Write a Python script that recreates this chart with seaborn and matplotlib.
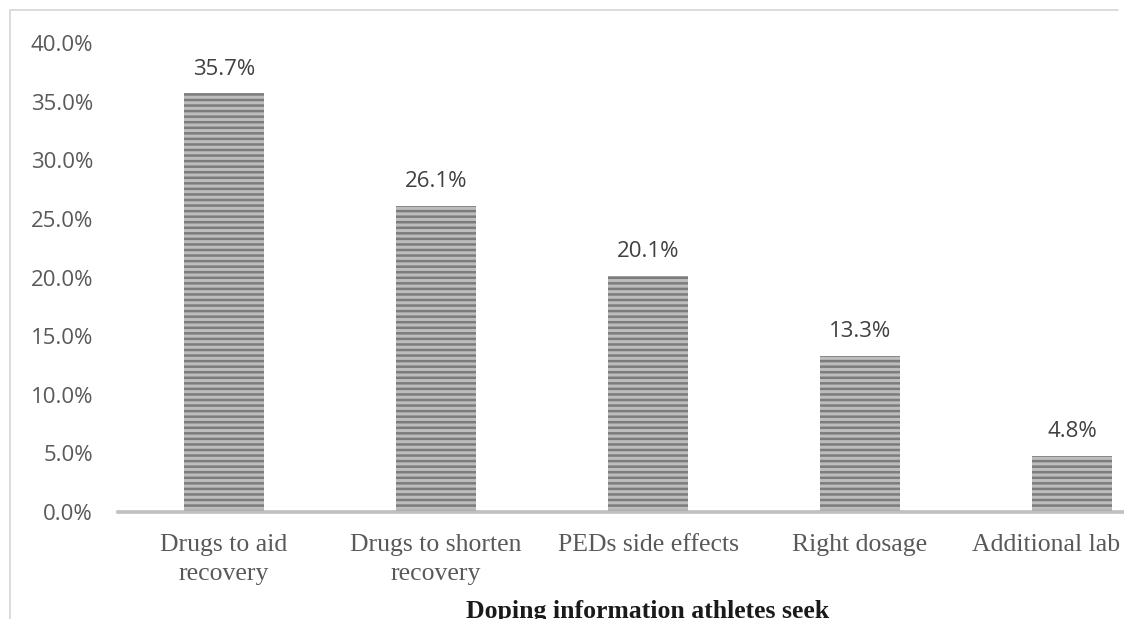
import matplotlib
matplotlib.use("Agg")
import matplotlib.pyplot as plt
from matplotlib.lines import Line2D
from matplotlib.ticker import FuncFormatter, MultipleLocator
import seaborn as sns

# data
categories = ["Drugs to aid\nrecovery", "Drugs to shorten\nrecovery",
              "PEDs side effects", "Right dosage", "Additional lab tests"]
shares = [0.357, 0.261, 0.201, 0.133, 0.048]
title = "Doping information athletes seek"

sns.set_style("white")
plt.rcParams["hatch.color"] = "#bdbdbd"
plt.rcParams["hatch.linewidth"] = 2.2

W, H = 1124, 619
fig = plt.figure(figsize=(W / 100, H / 100), dpi=100)
# plot area runs past the right edge of the picture (reference is cropped)
ax = fig.add_axes([118 / W, 107 / H, 1060 / W, 469 / H])

sns.barplot(x=categories, y=shares, ax=ax, color="#7c7c7c",
            width=80 / 212, saturation=1)
for p in ax.patches:
    p.set_hatch("---")
    p.set_edgecolor("#bdbdbd")
    p.set_linewidth(0)

# value labels
for p, v in zip(ax.patches, shares):
    ax.annotate(f"{v:.1%}", (p.get_x() + p.get_width() / 2, v),
                xytext=(0, 10), textcoords="offset points",
                ha="center", va="bottom", fontsize=16,
                family="Open Sans", color="#404040")

ax.set_ylim(0, 0.4)
ax.yaxis.set_major_locator(MultipleLocator(0.05))
ax.yaxis.set_major_formatter(FuncFormatter(lambda y, _: f"{y:.1%}"))
ax.tick_params(axis="y", length=0, pad=18, labelsize=16, labelcolor="#595959")
for t in ax.get_yticklabels():
    t.set_family("Open Sans")
ax.tick_params(axis="x", length=0, pad=16, labelsize=18.5, labelcolor="#595959")
for t in ax.get_xticklabels():
    t.set_family("Liberation Serif")
    t.set_linespacing(1.38)

sns.despine(ax=ax, left=True, top=True, right=True)
ax.spines["bottom"].set_color("#bfbfbf")
ax.spines["bottom"].set_linewidth(2.6)
ax.set_xlabel("")
ax.set_ylabel("")

# axis title, clipped at the bottom like the reference
fig.text(648 / W, 1 - 600 / H, title, ha="center", va="top",
         fontsize=18.5, fontweight="bold", family="Liberation Serif",
         color="#1a1a1a")

# outer chart border (top and left visible)
fig.add_artist(Line2D([10 / W, 1118 / W], [1 - 10 / H, 1 - 10 / H],
                      color="#d9d9d9", lw=1.3, transform=fig.transFigure))
fig.add_artist(Line2D([10 / W, 10 / W], [1 - 10 / H, 0],
                      color="#d9d9d9", lw=1.3, transform=fig.transFigure))

fig.savefig("out.png", dpi=100)
